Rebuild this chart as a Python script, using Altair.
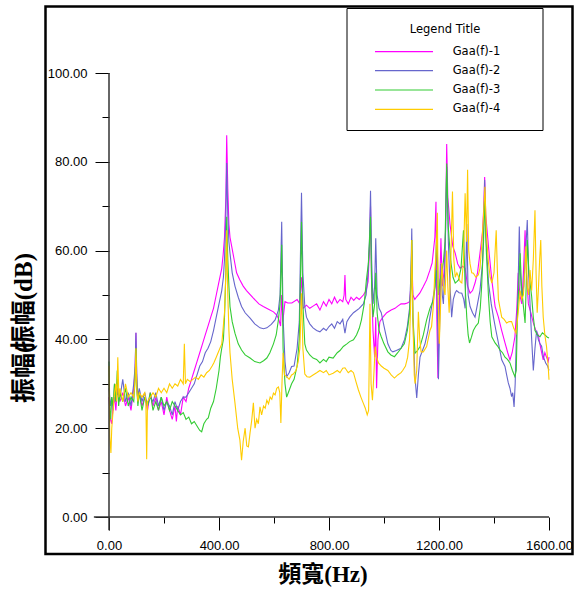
import altair as alt
import pandas as pd

series_names = ["Gaa(f)-1", "Gaa(f)-2", "Gaa(f)-3", "Gaa(f)-4"]
colors = ["#ff00ff", "#6666cc", "#33cc33", "#ffcc00"]

x_ticks = [0, 400, 800, 1200, 1600]
x_minor = [200, 600, 1000, 1400]
y_ticks = [0, 20, 40, 60, 80, 100]
y_minor = [10, 30, 50, 70, 90]

# (frequency Hz, amplitude dB)
s1 = [(0,27),(5,22),(10,21),(15,25),(20,27),(25,24),(30,29),(40,26),(50,28),(60,25),(70,27),(80,24),(90,29),(95,33),(98,41.5),(101,30),(105,26),(110,28),(120,25),(130,27),(140,24),(150,28),(160,25),(170,27),(180,24),(190,26),(200,23),(210,27),(220,24),(230,22),(240,25),(245,21.5),(250,25),(260,23),(270,27),(280,26),(290,29),(300,31),(310,33),(320,35),(330,37),(340,39),(350,41),(360,43),(370,45),(380,47),(390,50),(400,53),(410,56),(415,59),(420,63),(425,72),(428,86),(432,74),(436,66),(440,63),(446,61),(455,58),(464,55),(475,53.5),(488,52),(500,51),(525,49.3),(545,48),(561,47.4),(580,46.8),(598,46.2),(610,45.5),(618,44.4),(624,43),(628,50),(632,44),(640,48.5),(650,48.2),(665,48.2),(684,49),(694,48),(700,54),(706,47),(718,47.7),(730,47),(742,47.5),(755,48),(767,46.6),(780,48.5),(790,47.5),(800,49),(810,48),(820,49.5),(830,48.2),(840,49),(850,48.5),(855,50),(858,54.5),(861,49),(870,48),(880,49.5),(890,48.8),(900,49.5),(910,49),(925,50),(935,51),(942,53),(947,60),(951,70),(955,52),(960,42),(966,36),(970,45),(973,29),(978,40),(985,44),(996,45),(1010,46),(1026,46.6),(1040,47),(1050,47.5),(1062,48),(1075,48),(1085,48.2),(1093,48.5),(1098,52),(1101,60),(1105,50),(1112,49),(1119,49.6),(1130,50.4),(1143,51.9),(1155,53.4),(1167,55.6),(1175,57.2),(1185,63),(1189,71),(1192,45),(1196,31.3),(1202,50),(1207,62.8),(1212,52),(1218,55),(1224,65),(1228,84),(1232,72),(1240,66),(1250,61),(1259,59.4),(1268,57),(1277,56),(1286,56.5),(1295,56),(1304,52),(1313,50.4),(1322,51),(1331,52.7),(1340,55),(1349,59.4),(1358,64),(1363,70),(1366,76.6),(1370,68),(1380,60.9),(1392,53.4),(1404,47.4),(1416,45),(1428,42),(1440,39.2),(1450,37),(1458,35.4),(1466,37),(1476,40.6),(1483,47),(1488,55),(1494,50),(1501,48),(1507,55),(1513,64.6),(1518,55),(1525,48),(1534,46),(1543,43.7),(1552,42),(1561,41),(1570,38),(1579,35.4),(1585,37),(1591,36),(1597,35),(1600,36)]

s2 = [(0,29),(5,25),(10,27),(15,24),(20,30),(25,26),(30,28),(40,27),(50,31),(60,26),(70,28),(80,25),(90,30),(95,34),(98,41.5),(101,32),(105,27),(110,29),(120,26),(130,28),(140,25),(150,27),(160,26),(170,28),(180,25),(190,27),(200,24),(210,26),(220,25),(230,23),(240,26),(250,24),(260,26),(270,27),(280,27),(290,28),(300,29),(310,30),(320,32),(330,34),(340,35),(350,37),(360,38),(370,39.5),(380,42),(390,45),(400,48),(410,51),(416,54),(420,58),(425,68),(428,79.7),(432,68),(436,62),(440,59.4),(448,55),(458,52),(470,49.5),(482,47.4),(495,46),(513,44.8),(530,43.5),(549,42.6),(562,42.4),(574,42.6),(590,43.4),(604,44.4),(616,46.6),(622,50),(628,66.5),(633,45),(640,35),(646,31.6),(655,32.5),(664,33.9),(673,34),(684,38),(692,44),(700,73),(705,55),(712,47.4),(718,45),(730,43.5),(742,42.6),(755,42),(767,41.7),(780,42.5),(790,42),(800,42.9),(810,43.5),(820,42.5),(830,44),(840,43.5),(850,44.5),(858,41.4),(865,44),(875,45),(889,46),(900,46.5),(910,47),(925,48),(935,50),(942,55),(947,62),(951,73.5),(955,58),(960,48),(966,52),(970,62.8),(975,50),(982,47),(990,46),(1000,43),(1014,39),(1025,37.5),(1032,37.2),(1045,37.5),(1062,38),(1075,40),(1085,43),(1093,47),(1098,55),(1101,65),(1105,45),(1112,32),(1119,26.8),(1125,32),(1131,36),(1140,37.5),(1149,39),(1160,42),(1167,45),(1175,48),(1185,51.9),(1192,55.6),(1198,31),(1203,45),(1207,57),(1212,50),(1216,48),(1222,58),(1228,78.9),(1234,62),(1240,52),(1246,45),(1252,49),(1259,50.5),(1264,51),(1273,50.5),(1283,50.4),(1290,49),(1295,47),(1301,66),(1306,50),(1313,47.4),(1322,46),(1331,45),(1340,48),(1349,51),(1358,57),(1363,66),(1366,75.9),(1370,64),(1380,52.7),(1390,48),(1398,45),(1407,42),(1416,39.2),(1428,35.4),(1440,33.9),(1446,32),(1452,30.2),(1458,29),(1464,27.1),(1468,28),(1473,24.8),(1477,30),(1482,42),(1487,50),(1492,65.4),(1496,55),(1501,49),(1508,52),(1513,58),(1517,62),(1521,66.9),(1526,55),(1531,48),(1537,40),(1543,33),(1549,38),(1555,42),(1561,40),(1567,39),(1573,38.5),(1580,36),(1588,34.7),(1595,34),(1600,33)]

s3 = [(0,35),(3,24),(6,22),(10,27),(15,25),(20,30),(25,26),(30,33),(35,25),(40,28),(50,26),(60,29),(70,25),(80,27),(90,26),(95,31),(98,38),(101,29),(105,25),(110,28),(120,24),(130,27),(140,25),(150,28),(160,24),(170,26),(180,24),(190,27),(200,25),(210,26),(220,24),(230,26),(240,25),(250,24),(260,23),(270,23.5),(280,22),(290,22.5),(300,21),(310,21.5),(320,20.5),(330,19.5),(337,19.2),(345,21),(355,22),(361,22.3),(370,24.5),(380,26),(390,29),(400,33),(405,36),(410,38),(416,40),(420,45),(425,55),(428,67.6),(432,58),(436,52),(440,47.4),(448,44),(458,41.4),(470,39),(482,37.6),(495,36.5),(513,35.8),(530,35),(549,34.7),(562,35.2),(574,35.8),(585,37),(598,39),(608,41),(616,44.4),(622,48),(628,61.3),(633,38),(640,30),(646,27),(655,28.5),(664,30),(673,31),(684,34),(692,40),(700,66.5),(705,48),(712,39),(718,37.6),(730,36.5),(742,35.8),(755,35.5),(767,34.7),(780,35.5),(790,35),(800,36),(815,35.8),(830,37),(840,37.5),(852,38.4),(865,39),(875,39.5),(889,39.9),(900,41),(910,42.5),(918,44.4),(928,48),(936,53.4),(943,57),(947,62),(951,67.6),(955,52),(960,45),(966,48),(970,55),(975,46),(982,42),(990,40.6),(1000,39),(1014,37.2),(1025,36.5),(1038,36.1),(1050,37),(1062,38),(1074,39),(1085,42),(1093,46),(1098,52),(1101,62.4),(1105,45),(1113,36.9),(1122,37.5),(1131,38.4),(1143,41),(1155,44.4),(1167,47),(1180,48.9),(1186,52),(1192,64.6),(1198,50),(1204,53.4),(1210,55),(1216,57.5),(1222,62),(1228,79.6),(1234,65),(1243,57.5),(1251,54),(1259,52.7),(1265,53),(1271,53.4),(1280,56),(1289,64.6),(1295,52),(1301,45),(1306,41),(1311,39.2),(1318,40.5),(1325,42),(1334,43),(1343,43.7),(1350,47),(1355,51.9),(1362,62),(1366,72.1),(1372,60),(1380,49.6),(1386,44),(1392,40.6),(1404,39.2),(1413,38.5),(1422,37.6),(1431,37),(1440,36),(1449,35.5),(1458,34.7),(1467,33),(1476,31.6),(1481,33),(1485,45),(1490,52),(1495,59.4),(1500,52),(1506,48),(1513,43.7),(1517,52),(1521,62.4),(1527,55),(1537,49.6),(1543,45),(1549,42),(1558,41),(1567,40.6),(1576,41.5),(1585,41),(1594,40.5),(1600,40.3)]

s4 = [(0,34),(3,18),(7,14.4),(10,20),(15,24),(20,28),(25,30),(28,26),(32,36),(36,27),(40,29),(50,26),(60,30),(70,27),(80,28),(90,27),(95,31),(98,38),(101,29),(105,26),(110,28),(120,27),(130,28),(134,26),(137,13),(140,26),(150,27),(160,28),(170,27),(180,29),(190,28),(200,29),(210,28),(220,30),(230,29),(240,30),(250,29.5),(260,31),(270,30),(274,39),(278,30),(285,31),(295,30.5),(305,31),(315,31.5),(325,31),(335,32),(345,31.5),(355,32.5),(365,33),(375,34),(381,34.7),(390,36),(400,37.5),(410,39),(415,42.5),(420,46),(425,55),(428,64.6),(432,50),(436,42),(440,37),(448,31),(458,25.7),(468,20),(476,17.3),(482,12.8),(488,17),(495,20),(501,16),(507,15.8),(513,19),(519,21.8),(525,25.7),(531,20),(537,22),(543,21),(549,24.8),(555,23),(562,25),(568,24.5),(574,26.3),(580,25.5),(586,27),(592,26.5),(598,27.9),(604,27.5),(610,29),(616,29.3),(621,28),(625,21.2),(629,30),(633,37),(638,32),(646,31.6),(655,31),(664,32),(670,32.2),(680,33),(688,35),(694,38),(700,50.4),(705,38),(712,32.2),(720,31.6),(730,31.5),(742,32),(755,32.5),(767,33),(780,32.5),(790,33),(800,32),(815,32.4),(830,33),(840,32.5),(850,33.5),(858,33.6),(870,32.5),(880,33),(889,32.5),(898,30.5),(907,28.6),(916,27),(925,25.6),(932,24.5),(939,23),(944,24),(949,48),(953,30),(958,26.3),(963,32),(968,38.4),(973,36),(980,34.7),(990,34),(1000,33.5),(1014,33),(1026,32),(1038,31.3),(1050,32),(1062,32.5),(1068,33),(1078,34),(1086,36),(1093,40),(1098,50),(1101,62.4),(1105,45),(1110,32),(1113,30),(1119,33),(1125,46.2),(1130,40),(1135,37.2),(1143,37.2),(1155,38.4),(1167,42),(1173,42.9),(1180,48),(1185,55.6),(1190,60),(1194,68.5),(1197,49.6),(1201,39),(1206,48),(1210,57.2),(1216,52),(1222,50),(1228,60),(1232,52),(1237,46),(1243,58),(1249,73.3),(1254,58),(1259,54),(1265,55),(1271,54.1),(1277,53),(1283,52.7),(1289,58),(1295,72.9),(1300,62),(1304,78.2),(1308,60),(1313,57),(1319,55),(1325,54.9),(1334,54),(1343,54.5),(1349,56),(1355,61),(1362,68),(1367,74.4),(1373,63),(1380,57.2),(1386,54),(1392,52.7),(1400,55),(1408,64.6),(1412,56),(1416,49),(1422,47),(1428,45),(1437,44.5),(1446,43.7),(1455,44),(1464,44),(1472,42.5),(1480,41.4),(1488,46),(1495,51),(1501,49),(1507,50),(1512,55),(1516,61),(1521,52),(1526,50),(1531,55.6),(1537,51),(1543,58),(1549,69.1),(1553,55),(1557,46),(1562,52),(1566,58),(1570,62.4),(1574,52),(1579,45),(1585,41),(1591,38.4),(1597,34),(1600,30.9)]

rows = []
for name, s in zip(series_names, [s1, s2, s3, s4]):
    for f, v in s:
        rows.append({"f": f, "v": v, "series": name})
df = pd.DataFrame(rows)

xs = alt.Scale(domain=[0, 1600], nice=False, zero=False)
ys = alt.Scale(domain=[0, 100], nice=False, zero=False)

LBL = "Liberation Sans"
TITLE_FONT = "Liberation Serif, Noto Sans CJK TC, Noto Sans CJK SC"

x_axis = alt.Axis(values=x_ticks, format=".2f", tickSize=13, domain=False, grid=False,
                  title=None, labelFont=LBL, labelFontSize=13, labelColor="#000",
                  tickColor="#000", tickWidth=1, labelPadding=9, orient="bottom",
                  labelFlush=False, labelOverlap=False, labelBound=False)
y_axis = alt.Axis(values=y_ticks, format=".2f", tickSize=14, domain=False, grid=False,
                  title=None, labelFont=LBL, labelFontSize=13, labelColor="#000",
                  tickColor="#000", tickWidth=1, labelPadding=8, orient="left",
                  labelFlush=False, labelOverlap=False, labelBound=False)
x_axis_minor = alt.Axis(values=x_minor, tickSize=6, domain=False, grid=False, labels=False,
                        title=None, tickColor="#000", tickWidth=1, orient="bottom")
y_axis_minor = alt.Axis(values=y_minor, tickSize=7, domain=False, grid=False, labels=False,
                        title=None, tickColor="#000", tickWidth=1, orient="left")

lines = alt.Chart(df).mark_line(strokeWidth=1.1).encode(
    x=alt.X("f:Q", scale=xs, axis=x_axis),
    y=alt.Y("v:Q", scale=ys, axis=y_axis),
    color=alt.Color("series:N", scale=alt.Scale(domain=series_names, range=colors), legend=None),
)

axis_df = pd.DataFrame({"x": [-55, 0], "x2": [1600, 0], "y": [0, -3], "y2": [0, 100]})
axis_lines = alt.Chart(axis_df).mark_rule(color="#333333", strokeWidth=1.5).encode(
    x=alt.X("x:Q", scale=xs, axis=x_axis_minor),
    x2="x2:Q",
    y=alt.Y("y:Q", scale=ys, axis=y_axis_minor),
    y2="y2:Q",
)

one = pd.DataFrame({"a": [0]})

frame = alt.Chart(one).mark_rect(filled=False, stroke="#000", strokeWidth=2.5).encode(
    x=alt.value(-63.5), x2=alt.value(463.5), y=alt.value(-66.5), y2=alt.value(481)
)

legend_box = alt.Chart(one).mark_rect(fill="white", stroke="#000", strokeWidth=1).encode(
    x=alt.value(238), x2=alt.value(434), y=alt.value(-64.5), y2=alt.value(57.5)
)
legend_title = alt.Chart(one).mark_text(
    font="DejaVu Sans", fontSize=11.5, align="center", baseline="middle", color="#000"
).encode(x=alt.value(336), y=alt.value(-43), text=alt.value("Legend Title"))

legend_layers = []
row_y = [-21.3, -2.3, 17, 36.3]
for name, col, yy in zip(series_names, colors, row_y):
    legend_layers.append(
        alt.Chart(one).mark_rule(color=col, strokeWidth=1.2).encode(
            x=alt.value(266), x2=alt.value(324), y=alt.value(yy)
        )
    )
    legend_layers.append(
        alt.Chart(one).mark_text(
            font="DejaVu Sans", fontSize=11.5, align="left", baseline="middle", color="#000"
        ).encode(x=alt.value(343.7), y=alt.value(yy), text=alt.value(name))
    )

x_title = alt.Chart(one).mark_text(
    font=TITLE_FONT, fontSize=23, fontWeight="bold", align="center", baseline="middle", color="#000"
).encode(x=alt.value(214), y=alt.value(502), text=alt.value("頻寬(Hz)"))

y_title1 = alt.Chart(one).mark_text(
    font=TITLE_FONT, fontSize=25, fontWeight="bold", align="left", baseline="middle", angle=270, color="#000"
).encode(x=alt.value(-85), y=alt.value(330), text=alt.value("振幅("))
y_title2 = alt.Chart(one).mark_text(
    font=TITLE_FONT, fontSize=25, fontWeight="bold", align="right", baseline="middle", angle=270, color="#000"
).encode(x=alt.value(-85), y=alt.value(180), text=alt.value("振幅(dB)"))

chart = alt.layer(
    lines, axis_lines, frame, legend_box, legend_title, *legend_layers, x_title, y_title1, y_title2
).resolve_axis(x="independent", y="independent").properties(
    width=440, height=444,
    autosize=alt.AutoSizeParams(type="none"),
    padding={"left": 109, "top": 73, "right": 27, "bottom": 84},
    background="white",
).configure_view(stroke=None)

chart.save("out.html", embed_options={"renderer": "svg", "actions": False})
